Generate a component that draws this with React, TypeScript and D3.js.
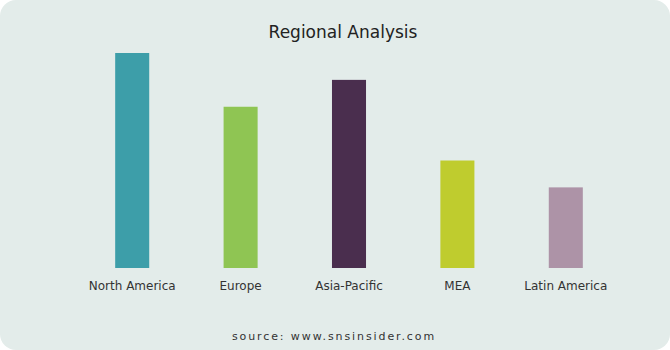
import React from "react";
import * as d3 from "d3";

const categories = ["North America", "Europe", "Asia-Pacific", "MEA", "Latin America"];
const values = [40, 30, 35, 20, 15];
const colors = ["#3d9ea9", "#8fc553", "#4a2e4e", "#bfcc2e", "#ad93a7"];
const title = "Regional Analysis";
const source = "source: www.snsinsider.com";

export default function App() {
  const W = 670, H = 350;
  const x = d3.scaleBand<string>().domain(categories).range([78, 620]).paddingInner(0.686).paddingOuter(0.343);
  const y = d3.scaleLinear().domain([0, 40]).range([268, 53]);
  const font = "'DejaVu Sans', sans-serif";
  return (
    <svg width={W} height={H} style={{ position: "absolute", left: 0, top: 0 }}>
      <rect x={0} y={0} width={W} height={H} rx={16} ry={16} fill="#e3ecea" />
      <text x={343} y={38} textAnchor="middle" fontFamily={font} fontSize={17} fill="#222">{title}</text>
      {categories.map((c, i) => (
        <g key={c}>
          <rect x={x(c)} y={y(values[i])} width={x.bandwidth()} height={y(0) - y(values[i])} fill={colors[i]} />
          <text x={(x(c) as number) + x.bandwidth() / 2} y={290} textAnchor="middle" fontFamily={font} fontSize={12} fill="#333">{c}</text>
        </g>
      ))}
      <text x={334} y={340} textAnchor="middle" fontFamily={font} fontSize={11} letterSpacing={1.9} fill="#333">{source}</text>
    </svg>
  );
}
